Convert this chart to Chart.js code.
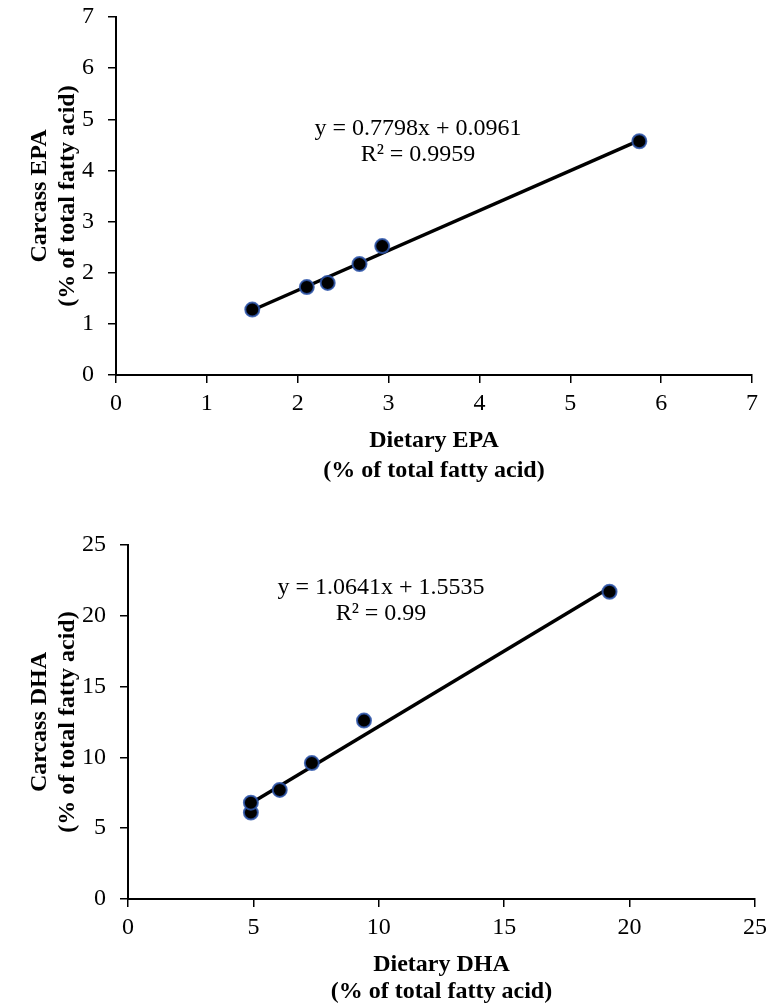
<!DOCTYPE html>
<html>
<head>
<meta charset="utf-8">
<script src="https://cdn.jsdelivr.net/npm/chart.js@4.4.1/dist/chart.umd.min.js"></script>
<style>
  body { margin:0; background:#fff; width:766px; height:1006px; overflow:hidden; }
  .box { position:absolute; left:0; width:766px; }
</style>
</head>
<body>
<div class="box" style="top:0;height:490px"><canvas id="epaChart" width="766" height="490"></canvas></div>
<div class="box" style="top:500px;height:506px"><canvas id="dhaChart" width="766" height="506"></canvas></div>
<script>
// EPA: dietary vs carcass (% of total fatty acid)
const epaDiet    = [1.50, 2.10, 2.33, 2.68, 2.93, 5.76];
const epaCarcass = [1.28, 1.72, 1.80, 2.17, 2.52, 4.57];
const epaSlope = 0.7798, epaIntercept = 0.0961;
const epaEq = ['y = 0.7798x + 0.0961', 'R\u00B2 = 0.9959'];

// DHA: dietary vs carcass
const dhaDiet    = [4.9, 4.9, 6.05, 7.33, 9.41, 19.2];
const dhaCarcass = [6.1, 6.8, 7.7, 9.6, 12.6, 21.7];
const dhaSlope = 1.0641, dhaIntercept = 1.5535;
const dhaEq = ['y = 1.0641x + 1.5535', 'R\u00B2 = 0.99'];

const SERIF = "'Liberation Serif', 'Times New Roman', serif";

// regression equation text, placed in canvas pixels
const eqLabel = {
  id: 'eqLabel',
  afterDraw(chart, args, o) {
    const ctx = chart.ctx;
    ctx.save();
    ctx.fillStyle = '#000';
    ctx.font = o.size + 'px ' + SERIF;
    ctx.textAlign = 'center';
    ctx.textBaseline = 'middle';
    o.lines.forEach((t, i) => ctx.fillText(t, o.x, o.y + i * o.gap));
    ctx.restore();
  }
};

function axis(max, step, title, fitSize, horiz, pad, lh) {
  return {
    type: 'linear', min: 0, max: max,
    ticks: { stepSize: step, color: '#000', padding: horiz ? 6 : 14,
             font: { family: SERIF, size: 24 } },
    grid: { drawOnChartArea: false, drawTicks: true, tickLength: 8,
            color: '#000', lineWidth: 1.5 },
    border: { display: true, color: '#000', width: 2 },
    title: { display: true, text: title, color: '#000',
             font: { family: SERIF, size: 24, weight: 'bold', lineHeight: lh },
             padding: pad },
    afterFit(s) {
      if (horiz) s.height = fitSize; else s.width = fitSize;
      // let layout.padding alone decide the plot edges
      s.paddingTop = s.paddingBottom = s.paddingLeft = s.paddingRight = 0;
    }
  };
}

function makeChart(id, xs, ys, slope, icpt, eq, o) {
  const trend = [xs[0], xs[xs.length - 1]].map(x => ({ x: x, y: slope * x + icpt }));
  return new Chart(document.getElementById(id), {
    type: 'scatter',
    data: { datasets: [
      { data: xs.map((x, i) => ({ x: x, y: ys[i] })),
        pointRadius: 7, pointBackgroundColor: '#000',
        pointBorderColor: 'rgba(45,85,170,0.85)', pointBorderWidth: 2 },
      { data: trend, showLine: true, borderColor: '#000', borderWidth: 3.5,
        pointRadius: 0 }
    ]},
    options: {
      responsive: false, animation: false,
      layout: { padding: o.padding },
      plugins: { legend: { display: false }, tooltip: { enabled: false },
                 eqLabel: eq },
      scales: {
        x: axis(o.xMax, o.xStep, o.xTitle, o.xFit, true, { top: 0, bottom: o.xPad }, o.lh),
        y: axis(o.yMax, o.yStep, o.yTitle, o.yFit, false, { top: 26, bottom: 0 }, 1.17)
      }
    },
    plugins: [eqLabel]
  });
}

makeChart('epaChart', epaDiet, epaCarcass, epaSlope, epaIntercept,
  { lines: epaEq, x: 418, y: 129, gap: 26, size: 24 },
  { padding: { top: 17, right: 14, left: 0, bottom: 0 },
    xMax: 7, xStep: 1, yMax: 7, yStep: 1, xFit: 115, yFit: 116, xPad: 4, lh: 1.25,
    xTitle: ['Dietary EPA', '(% of total fatty acid)'],
    yTitle: ['Carcass EPA', '(% of total fatty acid)'] });

makeChart('dhaChart', dhaDiet, dhaCarcass, dhaSlope, dhaIntercept,
  { lines: dhaEq, x: 381, y: 88, gap: 26, size: 24 },
  { padding: { top: 45, right: 11, left: 0, bottom: 0 },
    xMax: 25, xStep: 5, yMax: 25, yStep: 5, xFit: 107, yFit: 128, xPad: 0, lh: 1.15,
    xTitle: ['Dietary DHA', '(% of total fatty acid)'],
    yTitle: ['Carcass DHA', '(% of total fatty acid)'] });
</script>
</body>
</html>
